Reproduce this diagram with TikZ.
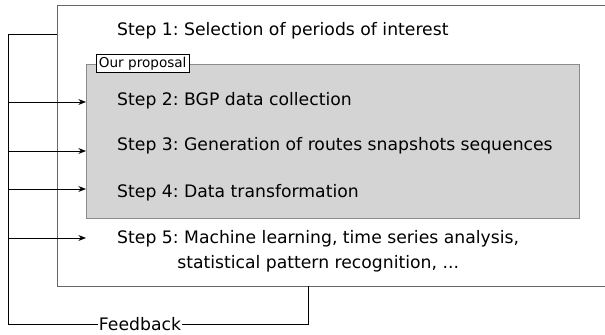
\documentclass[tikz,border=0pt]{standalone}
\usepackage{fontspec}
\setmainfont{DejaVu Sans}
\usetikzlibrary{arrows.meta,positioning}
\frenchspacing

\tikzset{
  steptext/.style={inner sep=0pt, font=\fontsize{14.7}{21.3}\selectfont},
  frame/.style={draw=black!60, line width=0.8pt, inner sep=0pt},
  fbline/.style={draw=black, line width=0.8pt},
  feedarrow/.style={fbline, -{Stealth[length=6.5pt,width=5pt]}},
}

\begin{document}
\begin{tikzpicture}[x=0.03cm,y=-0.03cm]
\clip (0,0) rectangle (605,335);
% boxes
\node[frame, anchor=north west, minimum width=560*0.03cm, minimum height=281*0.03cm]
  (outer) at (57,5) {};
\node[frame, draw=black!45, fill=black!17, anchor=north west,
      minimum width=493*0.03cm, minimum height=154*0.03cm]
  (proposal) at (86,64) {};
\node[draw=black, line width=0.6pt, fill=white, anchor=north west, inner sep=2.2pt,
      font=\fontsize{11.6}{14}\selectfont]
  (tag) at (96,54) {Our proposal};
% steps
\node[steptext, anchor=base west] (step1) at (117,35) {Step 1: Selection of periods of interest};
\node[steptext, anchor=base west] (step2) at (117,105) {Step 2: BGP data collection};
\node[steptext, anchor=base west] (step3) at (117,150) {Step 3: Generation of routes snapshots sequences};
\node[steptext, anchor=base west] (step4) at (117,197) {Step 4: Data transformation};
\node[steptext, anchor=north west, align=center] (step5) at (117,230)
  {Step 5: Machine learning, time series analysis,\\ statistical pattern recognition, ...};
% feedback loop
\coordinate (fbtop) at (8,34);
\coordinate (fbout) at (308,286);
\node[steptext, inner sep=0.5pt] (fb) at (140,324) {Feedback};
\draw[fbline] (fb.west) -| (fbtop) -- (fbtop -| outer.west);
\draw[fbline] (fb.east) -| (fbout);
\foreach \n/\y in {2/102,3/151,4/189,5/238} {
  \coordinate (in\n) at (86,\y);
  \draw[feedarrow] (fbtop |- in\n) -- (in\n);
}
\end{tikzpicture}
\end{document}
